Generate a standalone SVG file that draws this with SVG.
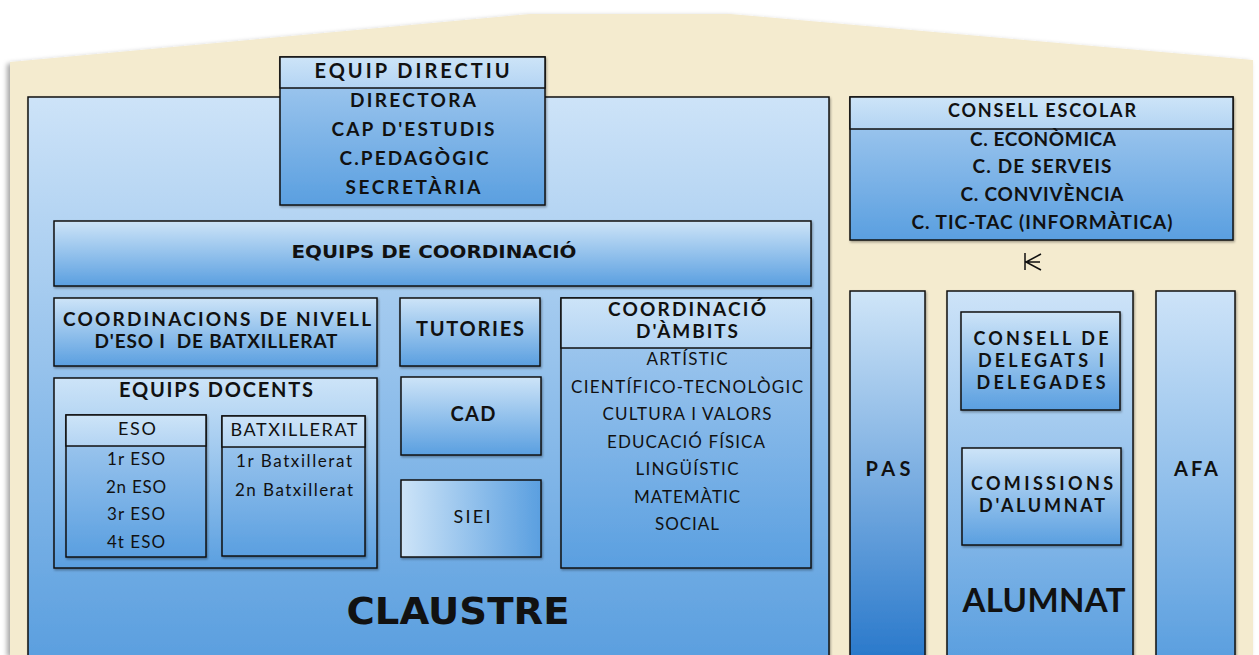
<svg xmlns="http://www.w3.org/2000/svg" width="1259" height="655" viewBox="0 0 1259 655">
<style>
.box{stroke:#111;stroke-width:1.5;filter:url(#sh)}
.hd{stroke:#111;stroke-width:1.5}
.ln{stroke:#111;stroke-width:1.5;fill:none}
.t{font-family:"Lato","Open Sans","DejaVu Sans",sans-serif;font-weight:700;fill:#111;text-anchor:middle}
.n{font-family:"Lato","Open Sans","DejaVu Sans",sans-serif;font-weight:400;fill:#111;text-anchor:middle}
.d{font-family:"DejaVu Sans","Verdana",sans-serif;font-weight:700;fill:#111;text-anchor:middle}
</style>
<defs>
<linearGradient id="gv" x1="0" y1="0" x2="0" y2="1"><stop offset="0" stop-color="#cde4f8"/><stop offset="1" stop-color="#5a9fe0"/></linearGradient>
<linearGradient id="gb" x1="0" y1="0" x2="0" y2="1"><stop offset="0" stop-color="#a9cdf0"/><stop offset="1" stop-color="#5a9fe0"/></linearGradient>
<linearGradient id="gt" x1="0" y1="0" x2="0" y2="1"><stop offset="0" stop-color="#cde4f8"/><stop offset="1" stop-color="#b3d4f3"/></linearGradient>
<linearGradient id="gh" x1="0" y1="0" x2="1" y2="0"><stop offset="0" stop-color="#cde4f8"/><stop offset="1" stop-color="#5a9fe0"/></linearGradient>
<linearGradient id="gp" x1="0" y1="0" x2="0" y2="1"><stop offset="0" stop-color="#cfe5f8"/><stop offset="1" stop-color="#2a79cb"/></linearGradient>
<linearGradient id="gc" x1="0" y1="0" x2="0" y2="1"><stop offset="0" stop-color="#cde3f8"/><stop offset="1" stop-color="#5b9fdf"/></linearGradient>
<filter id="sh" x="-10%" y="-10%" width="120%" height="120%"><feDropShadow dx="1" dy="1.5" stdDeviation="1.2" flood-color="#000" flood-opacity="0.35"/></filter>
<filter id="bs" x="-5%" y="-5%" width="110%" height="110%"><feDropShadow dx="-3" dy="2" stdDeviation="2.5" flood-color="#000" flood-opacity="0.35"/></filter>
</defs>

<path d="M10 62 L530 14 L730 14 L1253 60 L1253 655 L10 655 Z" fill="#f4ebcf" filter="url(#bs)"/>

<g id="claustre">
<rect class="box" x="28" y="97" width="801" height="560" fill="url(#gc)"/>
<text class="d" x="458" y="624" font-size="37" textLength="223" lengthAdjust="spacingAndGlyphs">CLAUSTRE</text>
</g>

<g id="equip-directiu">
<rect class="box" x="280" y="57" width="265" height="148" fill="url(#gb)"/>
<rect class="hd" x="280" y="57" width="265" height="31" fill="url(#gt)"/>
<text class="t" x="412" y="78" font-size="20" textLength="195">EQUIP DIRECTIU</text>
<text class="t" x="413" y="107" font-size="19" textLength="126">DIRECTORA</text>
<text class="t" x="413" y="136" font-size="19" textLength="163">CAP D'ESTUDIS</text>
<text class="t" x="414" y="165" font-size="19" textLength="149">C.PEDAGÒGIC</text>
<text class="t" x="413" y="194" font-size="19" textLength="135">SECRETÀRIA</text>
</g>

<g id="equips-coordinacio">
<rect class="box" x="54" y="221" width="757" height="65" fill="url(#gv)"/>
<text class="d" x="434" y="258" font-size="17" textLength="285" lengthAdjust="spacingAndGlyphs">EQUIPS DE COORDINACIÓ</text>
</g>

<g id="coordinacions-nivell">
<rect class="box" x="54" y="298" width="323" height="68" fill="url(#gv)"/>
<text class="t" x="217" y="326" font-size="19" textLength="308">COORDINACIONS DE NIVELL</text>
<text class="t" x="216" y="348" font-size="19" textLength="243" xml:space="preserve">D'ESO I  DE BATXILLERAT</text>
</g>

<g id="equips-docents">
<rect class="box" x="54" y="378" width="323" height="190" fill="url(#gv)"/>
<text class="t" x="216" y="397" font-size="20" textLength="194">EQUIPS DOCENTS</text>
</g>

<g id="eso">
<rect class="box" x="66" y="415" width="140" height="142" fill="url(#gb)"/>
<rect class="hd" x="66" y="415" width="140" height="31" fill="url(#gt)"/>
<text class="n" x="137" y="435" font-size="18" textLength="38">ESO</text>
<text class="n" x="136" y="465" font-size="17" textLength="58">1r ESO</text>
<text class="n" x="136" y="493" font-size="17" textLength="60">2n ESO</text>
<text class="n" x="136" y="520" font-size="17" textLength="58">3r ESO</text>
<text class="n" x="136" y="548" font-size="17" textLength="58">4t ESO</text>
</g>

<g id="batxillerat">
<rect class="box" x="222" y="416" width="143" height="140" fill="url(#gb)"/>
<rect class="hd" x="222" y="416" width="143" height="31" fill="url(#gt)"/>
<text class="n" x="294" y="436" font-size="18" textLength="127">BATXILLERAT</text>
<text class="n" x="294" y="467" font-size="17" textLength="116">1r Batxillerat</text>
<text class="n" x="294" y="496" font-size="17" textLength="118">2n Batxillerat</text>
</g>

<g id="tutories">
<rect class="box" x="400" y="298" width="140" height="68" fill="url(#gv)"/>
<text class="t" x="470" y="336" font-size="20" textLength="108">TUTORIES</text>
</g>

<g id="cad">
<rect class="box" x="401" y="377" width="140" height="78" fill="url(#gv)"/>
<text class="t" x="473" y="421" font-size="20" textLength="45">CAD</text>
</g>

<g id="siei">
<rect class="box" x="401" y="480" width="140" height="77" fill="url(#gh)"/>
<text class="n" x="472" y="523" font-size="18" textLength="37">SIEI</text>
</g>

<g id="coordinacio-ambits">
<rect class="box" x="561" y="298" width="250" height="270" fill="url(#gb)"/>
<rect class="hd" x="561" y="298" width="250" height="50" fill="url(#gt)"/>
<text class="t" x="687" y="316" font-size="19" textLength="158">COORDINACIÓ</text>
<text class="t" x="687" y="338" font-size="19" textLength="102">D'ÀMBITS</text>
<text class="n" x="687" y="365" font-size="17" textLength="81">ARTÍSTIC</text>
<text class="n" x="687" y="393" font-size="17" textLength="232">CIENTÍFICO-TECNOLÒGIC</text>
<text class="n" x="687" y="420" font-size="17" textLength="169">CULTURA I VALORS</text>
<text class="n" x="686" y="448" font-size="17" textLength="158">EDUCACIÓ FÍSICA</text>
<text class="n" x="687" y="475" font-size="17" textLength="103">LINGÜÍSTIC</text>
<text class="n" x="687" y="503" font-size="17" textLength="106">MATEMÀTIC</text>
<text class="n" x="687" y="530" font-size="17" textLength="64">SOCIAL</text>
</g>

<g id="consell-escolar">
<rect class="box" x="850" y="97" width="383" height="143" fill="url(#gb)"/>
<rect class="hd" x="850" y="97" width="383" height="32" fill="url(#gt)"/>
<text class="t" x="1042" y="117" font-size="18" textLength="188">CONSELL ESCOLAR</text>
<text class="t" x="1043" y="146" font-size="19" textLength="146">C. ECONÒMICA</text>
<text class="t" x="1042" y="173" font-size="19" textLength="139">C. DE SERVEIS</text>
<text class="t" x="1042" y="201" font-size="19" textLength="163">C. CONVIVÈNCIA</text>
<text class="t" x="1042" y="229" font-size="19" textLength="261">C. TIC-TAC (INFORMÀTICA)</text>
</g>

<g id="pas">
<rect class="box" x="850" y="291" width="75" height="366" fill="url(#gp)"/>
<text class="t" x="888" y="476" font-size="20" textLength="45">PAS</text>
</g>

<g id="alumnat">
<rect class="box" x="947" y="291" width="186" height="366" fill="url(#gc)"/>
<text class="t" x="1044" y="612" font-size="33" textLength="163">ALUMNAT</text>
</g>

<g id="consell-delegats">
<rect class="box" x="961" y="312" width="159" height="98" fill="url(#gv)"/>
<text class="t" x="1041" y="345" font-size="18" textLength="135">CONSELL DE</text>
<text class="t" x="1041" y="367" font-size="18" textLength="126">DELEGATS I</text>
<text class="t" x="1041" y="389" font-size="18" textLength="129">DELEGADES</text>
</g>

<g id="comissions">
<rect class="box" x="962" y="448" width="159" height="97" fill="url(#gv)"/>
<text class="t" x="1042" y="490" font-size="18" textLength="142">COMISSIONS</text>
<text class="t" x="1042" y="512" font-size="18" textLength="126">D'ALUMNAT</text>
</g>

<g id="afa">
<rect class="box" x="1156" y="291" width="79" height="366" fill="url(#gc)"/>
<text class="t" x="1196" y="476" font-size="20" textLength="44">AFA</text>
</g>

<g id="connectors">
<path class="ln" d="M1025 253 V270 M1041 254 L1026 262 L1041 270 M1026 262 H1040"/>
</g>
</svg>
